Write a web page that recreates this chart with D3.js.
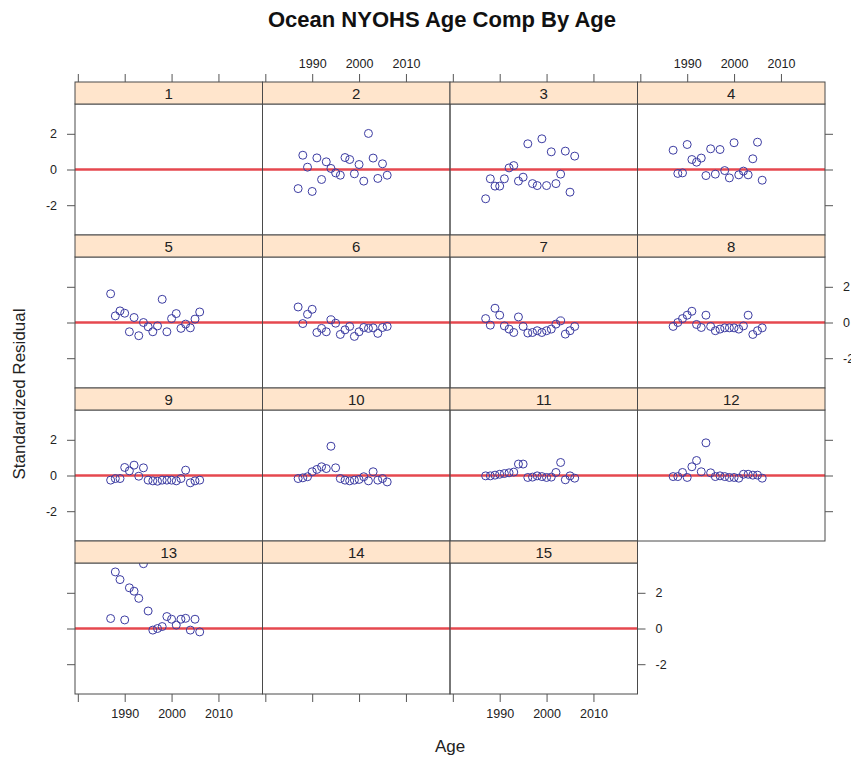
<!DOCTYPE html>
<html>
<head>
<meta charset="utf-8">
<script src="https://cdn.jsdelivr.net/npm/d3@7"></script>
<style>
    body { margin: 0; background: #fff; }
    text { font-family: "Liberation Sans", Arial, sans-serif; }
</style>
</head>
<body>
<div id="chart"></div>
<script>
const width = 851;
const height = 761;

// Data: one standardized residual per year, per age panel
const years = [1987, 1988, 1989, 1990, 1991, 1992, 1993, 1994, 1995, 1996,
    1997, 1998, 1999, 2000, 2001, 2002, 2003, 2004, 2005, 2006];
const ages = ["1", "2", "3", "4", "5", "6", "7", "8", "9", "10", "11", "12", "13", "14", "15"];

const resid1 = [];
const resid2 = [-1.07, 0.80, 0.13, -1.23, 0.65, -0.56, 0.43, 0.06, -0.19, -0.32,
    0.67, 0.56, -0.24, 0.28, -0.65, 2.02, 0.64, -0.50, 0.32, -0.32];
const resid3 = [-1.64, -0.52, -0.93, -0.93, -0.52, 0.09, 0.22, -0.65, -0.43, 1.44,
    -0.79, -0.90, 1.72, -0.90, 0.99, -0.79, -0.26, 1.03, -1.27, 0.75];
const resid4 = [1.08, -0.22, -0.19, 1.40, 0.56, 0.41, 0.64, -0.34, 1.16, -0.26,
    1.12, -0.06, -0.47, 1.50, -0.30, -0.09, -0.30, 0.60, 1.53, -0.60];
const resid5 = [1.61, 0.37, 0.65, 0.52, -0.52, 0.28, -0.74, 0.0, -0.24, -0.52,
    -0.19, 1.30, -0.52, 0.22, 0.50, -0.33, -0.09, -0.30, 0.19, 0.59];
const resid6 = [0.87, -0.06, 0.46, 0.74, -0.56, -0.33, -0.52, 0.15, -0.04, -0.67,
    -0.41, -0.22, -0.78, -0.52, -0.28, -0.33, -0.30, -0.61, -0.28, -0.22];
const resid7 = [0.22, -0.15, 0.80, 0.41, -0.19, -0.37, -0.56, 0.31, -0.22, -0.59,
    -0.56, -0.46, -0.56, -0.46, -0.37, -0.09, 0.09, -0.65, -0.46, -0.22];
const resid8 = [-0.22, 0.0, 0.22, 0.41, 0.63, -0.11, -0.28, 0.41, -0.22, -0.46,
    -0.37, -0.30, -0.30, -0.30, -0.37, -0.19, 0.41, -0.67, -0.46, -0.30];
const resid9 = [-0.26, -0.17, -0.17, 0.45, 0.26, 0.58, -0.04, 0.43, -0.26, -0.30,
    -0.32, -0.26, -0.26, -0.26, -0.30, -0.17, 0.30, -0.41, -0.30, -0.26];
const resid10 = [-0.17, -0.13, -0.07, 0.21, 0.34, 0.49, 0.39, 1.64, 0.43, -0.17,
    -0.26, -0.30, -0.26, -0.22, -0.07, -0.30, 0.21, -0.26, -0.17, -0.36];
const resid11 = [-0.02, -0.02, 0.02, 0.07, 0.11, 0.15, 0.19, 0.64, 0.64, -0.11,
    -0.09, -0.02, -0.06, -0.11, -0.09, 0.17, 0.73, -0.24, -0.02, -0.15];
const resid12 = [-0.06, -0.06, 0.17, -0.11, 0.49, 0.84, 0.21, 1.83, 0.15, -0.06,
    -0.02, -0.06, -0.11, -0.11, -0.15, 0.07, 0.07, 0.02, 0.02, -0.15];
const resid13 = [0.56, 3.17, 2.74, 0.48, 2.28, 2.09, 1.69, 3.63, 0.98, -0.09,
    0.0, 0.11, 0.67, 0.52, 0.19, 0.52, 0.57, -0.09, 0.52, -0.19];
const resid14 = [];
const resid15 = [];

const residByAge = [resid1, resid2, resid3, resid4, resid5, resid6, resid7, resid8,
    resid9, resid10, resid11, resid12, resid13, resid14, resid15];

const xTicks = [1980, 1990, 2000, 2010];
const yTicks = [-2, 0, 2];
const xDomain = [1979.4, 2019.4];
const yDomain = [-3.67, 3.67];

// Layout of the lattice
const gridLeft = 75;
const gridTop = 82;
const panelW = 187.5;
const rowH = 153;
const stripH = 22;
const nCols = 4;
const nRows = 4;
const bodyH = rowH - stripH;

const frameColor = "#4a4a4a";
const tickColor = "#555";
const textColor = "#222";

const svg = d3
    .select("#chart")
    .append("svg")
    .attr("width", width)
    .attr("height", height);

const x = d3.scaleLinear().domain(xDomain).range([0, panelW]);
const y = d3.scaleLinear().domain(yDomain).range([bodyH, 0]);

svg.append("defs")
    .append("clipPath")
    .attr("id", "panelClip")
    .append("rect")
    .attr("width", panelW)
    .attr("height", bodyH);

// Panels
ages.forEach((age, i) => {
    const col = i % nCols;
    const row = Math.floor(i / nCols);
    const g = svg
        .append("g")
        .attr("transform", `translate(${gridLeft + col * panelW},${gridTop + row * rowH})`);

    const body = g.append("g").attr("transform", `translate(0,${stripH})`);
    const inner = body.append("g").attr("clip-path", "url(#panelClip)");

    inner
        .append("line")
        .attr("x1", 0)
        .attr("x2", panelW)
        .attr("y1", y(0))
        .attr("y2", y(0))
        .attr("stroke", "#e2343c")
        .attr("stroke-opacity", 0.9)
        .attr("stroke-width", 2.6);

    const pts = residByAge[i].map((v, j) => ({ year: years[j], value: v }));

    inner
        .selectAll("circle")
        .data(pts)
        .join("circle")
        .attr("cx", (d) => x(d.year))
        .attr("cy", (d) => y(d.value))
        .attr("r", 4)
        .attr("fill", "none")
        .attr("stroke", "#3c3ca2")
        .attr("stroke-width", 1);

    body
        .append("rect")
        .attr("width", panelW)
        .attr("height", bodyH)
        .attr("fill", "none")
        .attr("stroke", frameColor);

    // Strip on top of the panel
    g.append("rect")
        .attr("width", panelW)
        .attr("height", stripH)
        .attr("fill", "#ffe5cc")
        .attr("stroke", frameColor);

    g.append("text")
        .attr("x", panelW / 2)
        .attr("y", 17)
        .attr("text-anchor", "middle")
        .attr("font-size", 15)
        .attr("fill", textColor)
        .text(age);
});

const styleAxis = (g) => {
    g.select(".domain").remove();
    g.selectAll(".tick line").attr("stroke", tickColor);
    g.selectAll(".tick text")
        .attr("fill", textColor)
        .attr("font-size", 12.5)
        .attr("font-family", '"Liberation Sans", Arial, sans-serif');
};

const yearLabel = (show) => (d) => (show && d !== 1980 ? String(d) : "");
const residLabel = (show) => (d) => (show ? String(d) : "");

// Top axes (labels on even columns)
for (let c = 0; c < nCols; c++) {
    svg.append("g")
        .attr("transform", `translate(${gridLeft + c * panelW},${gridTop})`)
        .call(d3.axisTop(x).tickValues(xTicks).tickSize(8).tickPadding(6)
            .tickFormat(yearLabel(c % 2 === 1)))
        .call(styleAxis);
}

// Bottom axes for the panels in the last row
const lastRowCount = ages.length - (nRows - 1) * nCols;
for (let c = 0; c < lastRowCount; c++) {
    svg.append("g")
        .attr("transform", `translate(${gridLeft + c * panelW},${gridTop + nRows * rowH})`)
        .call(d3.axisBottom(x).tickValues(xTicks).tickSize(8).tickPadding(7)
            .tickFormat(yearLabel(c % 2 === 0)))
        .call(styleAxis);
}

// Left and right axes
for (let r = 0; r < nRows; r++) {
    const rowTop = gridTop + r * rowH + stripH;
    svg.append("g")
        .attr("transform", `translate(${gridLeft},${rowTop})`)
        .call(d3.axisLeft(y).tickValues(yTicks).tickSize(8).tickPadding(10)
            .tickFormat(residLabel(r % 2 === 0)))
        .call(styleAxis);

    const colsInRow = Math.min(nCols, ages.length - r * nCols);
    svg.append("g")
        .attr("transform", `translate(${gridLeft + colsInRow * panelW},${rowTop})`)
        .call(d3.axisRight(y).tickValues(yTicks).tickSize(8).tickPadding(10)
            .tickFormat(residLabel(r % 2 === 1)))
        .call(styleAxis);
}

// Titles
svg.append("text")
    .attr("x", 442)
    .attr("y", 27)
    .attr("text-anchor", "middle")
    .attr("font-size", 22)
    .attr("font-weight", "bold")
    .attr("fill", "#111")
    .text("Ocean NYOHS Age Comp By Age");

svg.append("text")
    .attr("x", gridLeft + (nCols * panelW) / 2)
    .attr("y", 752)
    .attr("text-anchor", "middle")
    .attr("font-size", 17)
    .attr("fill", textColor)
    .text("Age");

svg.append("text")
    .attr("transform", "rotate(-90)")
    .attr("x", -394)
    .attr("y", 25)
    .attr("text-anchor", "middle")
    .attr("font-size", 17)
    .attr("fill", textColor)
    .text("Standardized Residual");
</script>
</body>
</html>
